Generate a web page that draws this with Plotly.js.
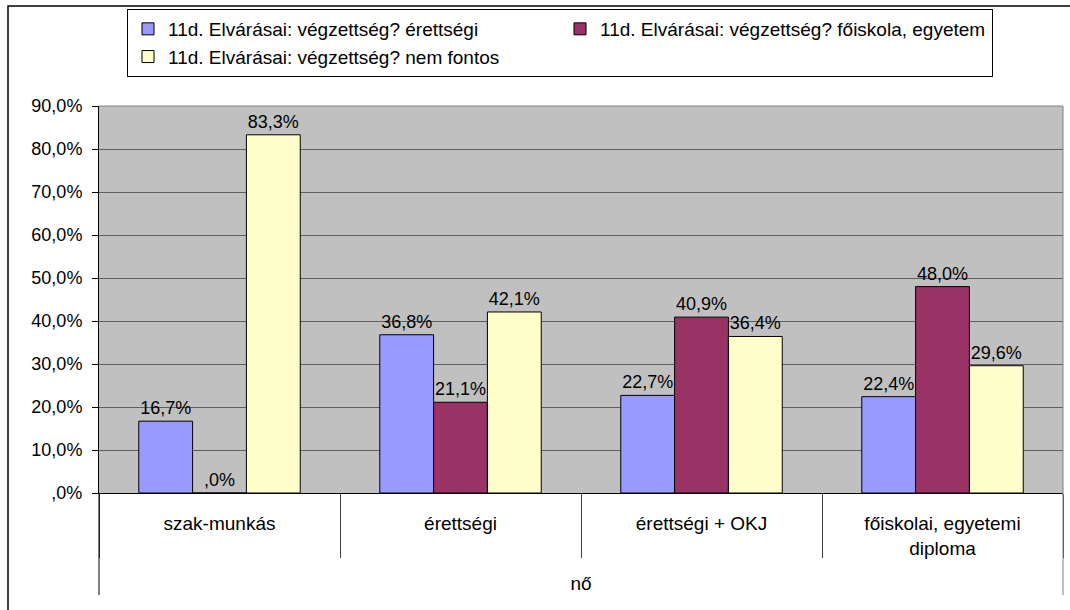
<!DOCTYPE html>
<html><head><meta charset="utf-8">
<script src="https://cdn.plot.ly/plotly-3.0.1.min.js"></script>
<style>body{margin:0;background:#fff}</style>
</head><body><div id="chart" style="width:1070px;height:610px"></div>
<script>
const groupLabel = 'nő';
const categories = ['szak-munkás', 'érettségi', 'érettségi + OKJ', 'főiskolai, egyetemi<br>diploma'];
const seriesNames = [
  '11d. Elvárásai: végzettség? érettségi',
  '11d. Elvárásai: végzettség? főiskola, egyetem',
  '11d. Elvárásai: végzettség? nem fontos'
];
const erettsegi = [16.7, 36.8, 22.7, 22.4];
const foiskolaEgyetem = [0.0, 21.1, 40.9, 48.0];
const nemFontos = [83.3, 42.1, 36.4, 29.6];
const yTickVals = [0, 10, 20, 30, 40, 50, 60, 70, 80, 90];
const yTickText = [',0%', '10,0%', '20,0%', '30,0%', '40,0%', '50,0%', '60,0%', '70,0%', '80,0%', '90,0%'];

const colors = ['#9999FF', '#993366', '#FFFFCC'];
const FONT = 'Liberation Sans, Arial, sans-serif';

function fmt(v) {
  return v.toFixed(1).replace('.', ',').replace(/^0,/, ',') + '%';
}

const seriesValues = [erettsegi, foiskolaEgyetem, nemFontos];
const traces = seriesValues.map((vals, i) => ({
  type: 'bar',
  name: seriesNames[i],
  x: categories,
  y: vals,
  text: vals.map(fmt),
  textposition: 'outside',
  constraintext: 'none',
  cliponaxis: false,
  textfont: {family: FONT, size: 18, color: '#000'},
  marker: {color: colors[i], line: {color: '#000', width: 1}},
  hoverinfo: 'skip'
}));

const L = 99, R = 1063, T = 106, B = 493;
const pw = R - L, ph = B - T;
const px2x = p => (p - L) / pw;
const px2y = p => (B - p) / ph;

const layout = {
  width: 1070, height: 610,
  margin: {l: L, r: 1070 - R, t: T, b: 610 - B, autoexpand: false},
  paper_bgcolor: '#fff',
  plot_bgcolor: '#C0C0C0',
  font: {family: FONT, size: 18, color: '#000'},
  barmode: 'group',
  bargap: 0.33,
  bargroupgap: 0,
  showlegend: true,
  legend: {
    orientation: 'h',
    x: px2x(127), xanchor: 'left',
    y: px2y(9), yanchor: 'top',
    entrywidth: 387,
    bgcolor: '#fff', bordercolor: '#000', borderwidth: 1,
    font: {family: FONT, size: 19, color: '#000'},
    traceorder: 'normal'
  },
  xaxis: {
    type: 'category',
    showline: true, linecolor: '#000', linewidth: 1,
    ticks: 'outside', tickson: 'boundaries', ticklen: 64, tickcolor: '#404040', tickwidth: 1,
    ticklabelstandoff: 13,
    tickfont: {family: FONT, size: 19, color: '#000'},
    title: {text: groupLabel, standoff: 19, font: {family: FONT, size: 19, color: '#000'}},
    automargin: false,
    showgrid: false, zeroline: false, fixedrange: true
  },
  yaxis: {
    range: [0, 90],
    tickvals: yTickVals, ticktext: yTickText,
    ticks: 'outside', ticklen: 6, tickcolor: '#000',
    showline: true, linecolor: '#000', linewidth: 1,
    showgrid: true, gridcolor: '#5f5f5f', gridwidth: 1,
    zeroline: false,
    tickfont: {family: FONT, size: 18, color: '#000'},
    ticklabelstandoff: 6,
    fixedrange: true
  },
  shapes: [
    {type: 'line', xref: 'paper', yref: 'paper', x0: 0, x1: 1, y0: 1, y1: 1, line: {color: '#808080', width: 1}},
    {type: 'line', xref: 'paper', yref: 'paper', x0: 1, x1: 1, y0: px2y(595), y1: 1, line: {color: '#808080', width: 1}},
    {type: 'line', xref: 'paper', yref: 'paper', x0: 0, x1: 0, y0: px2y(595), y1: 0, line: {color: '#000', width: 1}},
    {type: 'rect', xref: 'paper', yref: 'paper', x0: px2x(8), x1: px2x(1080), y0: px2y(620), y1: px2y(6), line: {color: '#000', width: 1.5}, fillcolor: 'rgba(0,0,0,0)'}
  ]
};

Plotly.newPlot('chart', traces, layout, {displayModeBar: false, staticPlot: true});
</script></body></html>
